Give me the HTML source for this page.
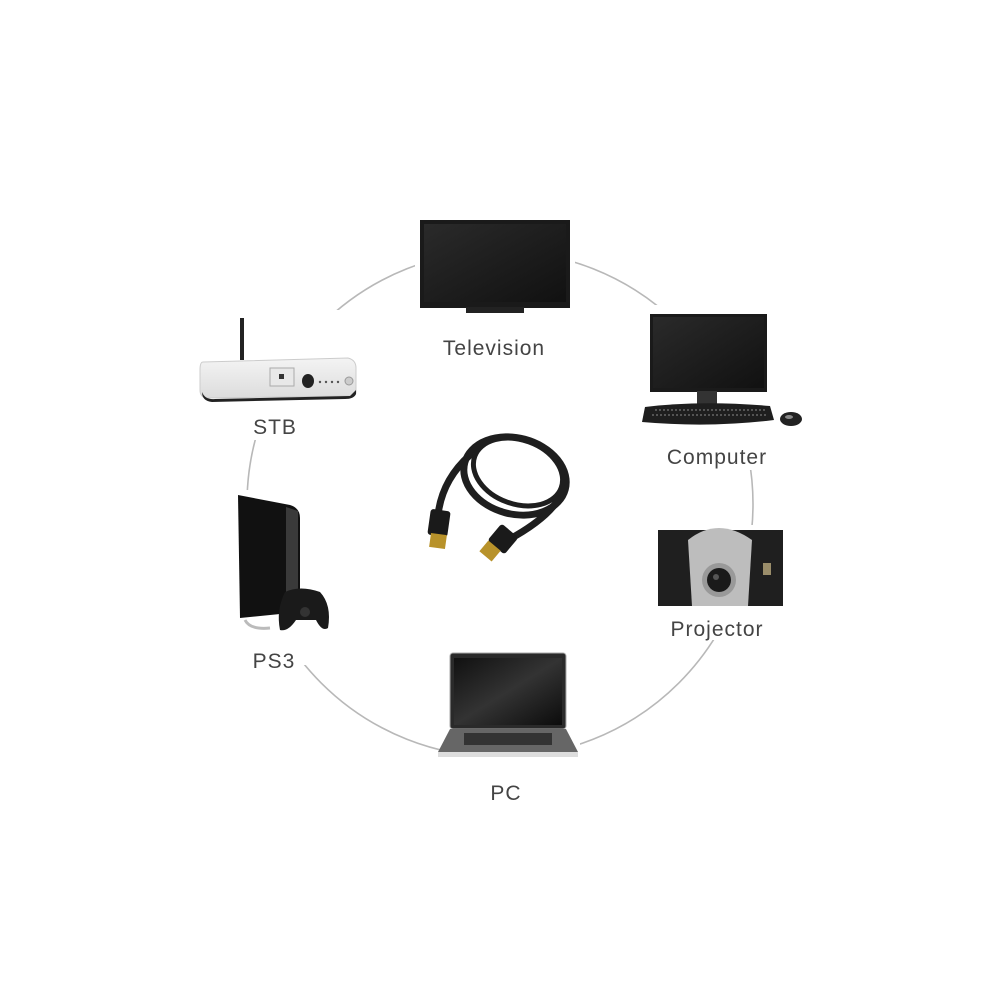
<!DOCTYPE html>
<html><head><meta charset="utf-8"><style>html,body{margin:0;padding:0;background:#fff}svg{display:block}</style></head>
<body>
<svg width="1000" height="1000" viewBox="0 0 1000 1000" xmlns="http://www.w3.org/2000/svg" font-family="Liberation Sans, sans-serif">
<defs>
<linearGradient id="scr" x1="0" y1="0" x2="1" y2="1"><stop offset="0" stop-color="#2a2a2a"/><stop offset="1" stop-color="#111"/></linearGradient>
<linearGradient id="lap" x1="0" y1="0" x2="1" y2="1"><stop offset="0" stop-color="#111"/><stop offset="0.5" stop-color="#333"/><stop offset="1" stop-color="#0c0c0c"/></linearGradient>
<linearGradient id="stb" x1="0" y1="0" x2="0" y2="1"><stop offset="0" stop-color="#f4f4f4"/><stop offset="1" stop-color="#dcdcdc"/></linearGradient>
</defs>
<rect width="1000" height="1000" fill="#fff"/>
<circle cx="500" cy="504" r="253" fill="none" stroke="#b8b8b8" stroke-width="1.6"/>
<rect x="415" y="215" width="160" height="150" fill="#fff"/>
<rect x="195" y="310" width="175" height="130" fill="#fff"/>
<rect x="635" y="305" width="175" height="165" fill="#fff"/>
<rect x="652" y="525" width="135" height="115" fill="#fff"/>
<rect x="440" y="645" width="140" height="160" fill="#fff"/>
<rect x="225" y="490" width="110" height="175" fill="#fff"/>

<rect x="420" y="220" width="150" height="88" fill="#1a1a1a"/>
<rect x="424" y="224" width="142" height="78" fill="url(#scr)"/>
<rect x="466" y="307" width="58" height="6" fill="#222"/>
<text x="494" y="355" font-size="21" fill="#444" text-anchor="middle" letter-spacing="1">Television</text>

<rect x="240" y="318" width="4" height="42" fill="#222"/>
<path d="M203 362 L348 358 Q356 360 356 368 L356 392 Q356 396 350 396 L208 398 Q200 398 200 390 L200 370 Q200 362 203 362Z" fill="url(#stb)" stroke="#ccc"/>
<path d="M202 392 Q205 400 215 399 L350 396 L356 390 L356 394 Q354 399 345 399 L212 402 Q202 401 202 392Z" fill="#222"/>
<rect x="270" y="368" width="24" height="18" fill="#e8e8e8" stroke="#aaa"/>
<rect x="279" y="374" width="5" height="5" fill="#333"/>
<ellipse cx="308" cy="381" rx="6" ry="7" fill="#222"/>
<circle cx="320" cy="382" r="1.2" fill="#555"/><circle cx="326" cy="382" r="1.2" fill="#555"/><circle cx="332" cy="382" r="1.2" fill="#555"/><circle cx="338" cy="382" r="1.2" fill="#555"/>
<circle cx="349" cy="381" r="4" fill="#ccc" stroke="#999"/>
<text x="275" y="434" font-size="21" fill="#444" text-anchor="middle" letter-spacing="1">STB</text>

<rect x="650" y="314" width="117" height="78" fill="#1a1a1a"/>
<rect x="653" y="317" width="111" height="71" fill="url(#scr)"/>
<rect x="697" y="391" width="20" height="14" fill="#333"/>
<path d="M645 407 Q700 400 770 406 L774 420 Q710 428 642 422Z" fill="#1e1e1e"/>
<path d="M655 410 L765 410" stroke="#666" stroke-width="1.5" stroke-dasharray="2 2"/>
<path d="M652 415 L768 415" stroke="#666" stroke-width="1.5" stroke-dasharray="2 2"/>
<ellipse cx="791" cy="419" rx="11" ry="7" fill="#222"/>
<ellipse cx="789" cy="417" rx="4" ry="2" fill="#888"/>
<text x="717" y="464" font-size="21" fill="#444" text-anchor="middle" letter-spacing="1">Computer</text>

<rect x="658" y="530" width="125" height="76" fill="#1f1f1f"/>
<path d="M688 540 Q718 516 752 540 L748 606 L692 606Z" fill="#bdbdbd"/>
<circle cx="719" cy="580" r="17" fill="#999"/>
<circle cx="719" cy="580" r="12" fill="#1a1a1a"/>
<circle cx="716" cy="577" r="3" fill="#555"/>
<rect x="763" y="563" width="8" height="12" fill="#9a8d6a"/>
<text x="717" y="636" font-size="21" fill="#444" text-anchor="middle" letter-spacing="1">Projector</text>

<rect x="450" y="653" width="116" height="76" rx="3" fill="#2a2a2a" stroke="#aaa"/>
<rect x="454" y="658" width="108" height="67" fill="url(#lap)"/>
<path d="M450 729 L566 729 L578 752 L438 752Z" fill="#666"/>
<rect x="464" y="733" width="88" height="12" fill="#333"/>
<rect x="438" y="752" width="140" height="5" fill="#ddd"/>
<text x="506" y="800" font-size="21" fill="#444" text-anchor="middle" letter-spacing="1">PC</text>

<path d="M238 495 L290 505 Q300 508 300 518 L300 612 L240 618 Z" fill="#111"/>
<path d="M286 507 L298 511 L298 605 L286 608Z" fill="#3a3a3a"/>
<path d="M245 620 Q250 630 270 628" stroke="#bbb" stroke-width="3" fill="none"/>
<path d="M285 592 Q300 585 320 592 Q332 605 328 628 Q322 632 316 620 L296 620 Q288 632 280 630 Q276 610 285 592Z" fill="#1a1a1a"/>
<circle cx="305" cy="612" r="5" fill="#333"/>
<text x="274" y="668" font-size="21" fill="#444" text-anchor="middle" letter-spacing="1">PS3</text>

<g fill="none" stroke="#1e1e1e" stroke-linecap="round">
<ellipse cx="515" cy="476" rx="52" ry="38" stroke-width="7" transform="rotate(15 515 476)"/>
<ellipse cx="518" cy="472" rx="46" ry="32" stroke-width="5" transform="rotate(20 518 472)"/>
<path d="M438 515 Q442 480 470 455" stroke-width="7"/>
<path d="M558 500 Q545 520 508 540" stroke-width="7"/>
</g>
<rect x="429" y="510" width="20" height="26" rx="3" fill="#1a1a1a" transform="rotate(8 439 523)"/>
<rect x="430" y="534" width="16" height="14" fill="#b8922a" transform="rotate(8 438 541)"/>
<rect x="492" y="528" width="22" height="22" rx="3" fill="#1a1a1a" transform="rotate(40 503 539)"/>
<rect x="482" y="544" width="16" height="14" fill="#b8922a" transform="rotate(40 490 551)"/>
</svg>
</body></html>
